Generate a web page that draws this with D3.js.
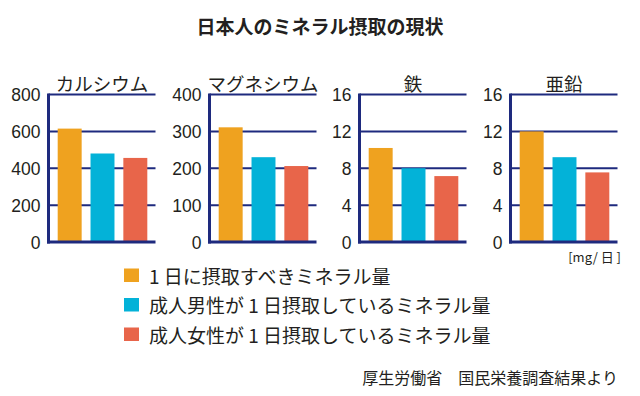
<!DOCTYPE html>
<html><head><meta charset="utf-8">
<script src="https://cdn.jsdelivr.net/npm/d3@7"></script>
<style>
html,body{margin:0;padding:0;background:#fff;}
svg{display:block;}
</style>
</head><body>
<script>
// ---- data ----
const minerals = ["カルシウム", "マグネシウム", "鉄", "亜鉛"];
const recommended = [615, 311, 10.2, 12.0];
const maleIntake = [480, 230, 8.0, 9.2];
const femaleIntake = [456, 206, 7.15, 7.55];
const yMax = [800, 400, 16, 16];
const tickValues = [
  [0, 200, 400, 600, 800],
  [0, 100, 200, 300, 400],
  [0, 4, 8, 12, 16],
  [0, 4, 8, 12, 16]
];
const seriesLabels = [
  "1 日に摂取すべきミネラル量",
  "成人男性が 1 日摂取しているミネラル量",
  "成人女性が 1 日摂取しているミネラル量"
];
const seriesKeys = ["rec", "male", "female"];
const title = "日本人のミネラル摂取の現状";
const unitLabel = "[mg/ 日 ]";
const sourceLabel = "厚生労働省　国民栄養調査結果より";

// ---- style ----
const colors = ["#EFA21F", "#03B2D8", "#E8654A"];
const navy = "#1E2A7E";
const textColor = "#231F20";
const jpFont = "'Noto Sans CJK JP', 'Noto Sans', sans-serif";
const numFont = "'Liberation Sans', Arial, sans-serif";

const W = 640, H = 396;
const svg = d3.select("body").append("svg").attr("width", W).attr("height", H);

svg.append("text").attr("x", 320).attr("y", 25)
  .attr("text-anchor", "middle").attr("dominant-baseline", "central")
  .attr("font-family", jpFont).attr("font-weight", "bold").attr("font-size", 19)
  .attr("fill", textColor).text(title);

const panelX = [48.5, 209.5, 359.5, 510.5];
const plotW = 107;
const y0 = 242, yTop = 94.5;

const x = d3.scaleBand().domain(seriesKeys).range([0, plotW + 1]).paddingInner(0.27).paddingOuter(0.28);

minerals.forEach((m, i) => {
  const g = svg.append("g").attr("transform", `translate(${panelX[i]},0)`);
  const y = d3.scaleLinear().domain([0, yMax[i]]).range([y0, yTop]);

  // grid lines
  g.append("g").selectAll("line").data(tickValues[i].filter(v => v > 0)).join("line")
    .attr("x1", 0).attr("x2", plotW)
    .attr("y1", d => y(d)).attr("y2", d => y(d))
    .attr("stroke", navy).attr("stroke-width", 2);

  // bars
  const vals = [recommended[i], maleIntake[i], femaleIntake[i]];
  g.append("g").selectAll("rect").data(seriesKeys).join("rect")
    .attr("x", d => x(d)).attr("width", x.bandwidth())
    .attr("y", (d, j) => y(vals[j])).attr("height", (d, j) => y0 - y(vals[j]))
    .attr("fill", (d, j) => colors[j]);

  // y axis
  const ax = d3.axisLeft(y).tickValues(tickValues[i]).tickSize(0).tickPadding(8);
  const axG = g.append("g").call(ax);
  axG.select(".domain").remove();
  axG.selectAll("text").attr("font-family", numFont).attr("font-size", 17.5)
    .attr("fill", textColor).attr("dy", "0.36em");

  // axis lines
  g.append("line").attr("x1", 0).attr("x2", 0).attr("y1", yTop - 1).attr("y2", y0 + 1.5)
    .attr("stroke", navy).attr("stroke-width", 3);
  g.append("line").attr("x1", -1.5).attr("x2", plotW).attr("y1", y0).attr("y2", y0)
    .attr("stroke", navy).attr("stroke-width", 3);

  // title
  g.append("text").attr("x", plotW / 2).attr("y", 83)
    .attr("text-anchor", "middle").attr("dominant-baseline", "central")
    .attr("font-family", jpFont).attr("font-size", 18.5).attr("fill", textColor).text(m);
});

// unit
svg.append("text").attr("x", 621).attr("y", 256)
  .attr("text-anchor", "end").attr("dominant-baseline", "central")
  .attr("font-family", jpFont).attr("font-size", 13).attr("fill", textColor).text(unitLabel);

// legend
const legendY = [275, 304.5, 334];
const lg = svg.append("g");
seriesLabels.forEach((lab, j) => {
  lg.append("rect").attr("x", 124).attr("y", legendY[j] - 6.5).attr("width", 15).attr("height", 13.5)
    .attr("fill", colors[j]);
  lg.append("text").attr("x", 149).attr("y", legendY[j])
    .attr("dominant-baseline", "central")
    .attr("font-family", jpFont).attr("font-size", 19).attr("fill", textColor).text(lab);
});

// source
svg.append("text").attr("x", 618).attr("y", 377)
  .attr("text-anchor", "end").attr("dominant-baseline", "central")
  .attr("font-family", jpFont).attr("font-size", 16).attr("fill", textColor).text(sourceLabel);
</script>
</body></html>
